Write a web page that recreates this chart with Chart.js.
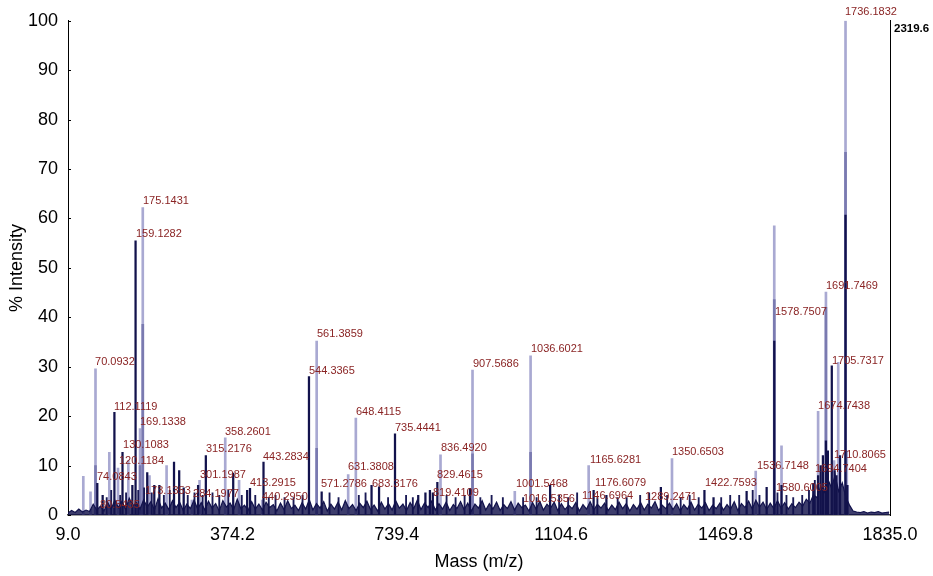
<!DOCTYPE html>
<html>
<head>
<meta charset="utf-8">
<script src="https://cdn.jsdelivr.net/npm/chart.js@4.4.1/dist/chart.umd.min.js"></script>
<style>
  html, body { margin: 0; padding: 0; background: #fff; }
  canvas { display: block; }
</style>
</head>
<body>
<canvas id="c" width="933" height="576"></canvas>
<script>
// ---------------- data ----------------
const xTickValues = [9.0, 374.2, 739.4, 1104.6, 1469.8, 1835.0];
const yTickValues = [0, 10, 20, 30, 40, 50, 60, 70, 80, 90, 100];
const maxIntensityLabel = "2319.6";

// light lavender trace: [m/z, % intensity]
const lightPeaks = [
  [43, 7.8], [59, 4.7], [70.09, 29.6], [100.8, 12.7], [120.1, 9.5], [143, 11],
  [169.1, 17.5], [175.1, 62.2], [190, 8], [228, 10], [284.2, 3], [301.2, 7],
  [358.3, 15.6], [389, 7], [440.3, 3], [561.4, 35.2], [631.4, 8.2], [648.4, 19.6],
  [836.5, 12.2], [907.6, 29.3], [1001.5, 4.8], [1036.6, 32.2], [1165.6, 10],
  [1350.7, 11.4], [1536.7, 8.9], [1577.9, 58.5], [1594, 14], [1675.3, 21],
  [1692.7, 45.1], [1710.8, 11], [1720, 30.9], [1736.2, 100], [1739, 13], [1741, 6]
];
// medium lavender trace
const midPeaks = [
  [70.09, 10], [169.1, 10], [175.1, 38.6], [561.4, 13.5], [907.6, 12.4],
  [1036.6, 12.7], [1577.9, 43.6], [1692.7, 42], [1736.2, 73.4]
];
// dark navy trace
const darkPeaks = [
  [74.1, 6.4], [86, 4], [112.1, 20.8], [130.1, 12.7], [152, 6], [159.1, 55.5],
  [185, 8.6], [200.7, 6], [212, 6], [244.5, 10.7], [256, 9], [266, 5.5], [298, 6],
  [315.2, 12], [376, 8.5], [407, 5], [413.3, 5.4], [443.3, 10.7], [544.3, 28],
  [572.5, 4.7], [683.3, 6], [700, 5.7], [735.4, 16.4], [787, 4], [803, 4.5],
  [813, 5], [819.4, 4.5], [829.5, 6.6], [902, 5.4], [1080, 6], [1176.6, 5],
  [1205, 4], [1326, 5.6], [1422.8, 5], [1443, 3.5], [1516.5, 4.8], [1561, 5.6],
  [1577.9, 35.2], [1594, 6], [1664.6, 6.4], [1675.3, 8], [1681, 10], [1686, 12],
  [1692.7, 15], [1697, 13], [1705.7, 30.2], [1712, 9], [1716, 8], [1724, 12],
  [1736.2, 60.7], [1740, 6]
];
// small dark spikes riding on the baseline
const darkSpikes = [
  [95, 3.5], [105, 5], [125, 4], [138, 4.5], [165, 5], [178, 5.5], [195, 4.5],
  [222, 4], [235, 5], [275, 4], [290, 4.5], [308, 4], [330, 4.5], [345, 4],
  [365, 5], [395, 4], [425, 4], [455, 3.5], [470, 4], [490, 3.5], [510, 3.5],
  [530, 4], [590, 4.5], [610, 3.5], [655, 4], [670, 4.5], [720, 3.5], [760, 4],
  [775, 3.5], [850, 4], [870, 3.5], [890, 4], [925, 3.5], [950, 4], [975, 3.5],
  [1020, 3.5], [1050, 3.5], [1100, 4], [1120, 3.5], [1140, 4.5], [1185, 3.5],
  [1230, 3.5], [1250, 3.5], [1280, 4], [1300, 4.5], [1340, 4], [1370, 3.5],
  [1390, 4], [1410, 3.5], [1460, 3.5], [1480, 4], [1500, 4], [1530, 5],
  [1545, 4], [1585, 4.5], [1605, 4], [1620, 3.5], [1640, 4], [1655, 5], [1668, 7]
];
// dark baseline noise, sampled every 8 m/z from 9
const noiseStart = 9;
const noiseStep = 8;
const noiseLevels = [
  0.4,0.9,0.5,1.2,0.6,1.0,0.7,2.2,1.0,1.8,
  0.8,2.6,1.2,3.0,1.5,2.8,1.1,3.4,1.9,2.5,
  1.2,3.1,1.6,2.7,1.0,3.3,1.4,2.4,1.1,2.9,
  1.5,2.6,0.9,2.2,1.3,3.0,1.2,2.5,1.0,2.8,
  1.4,2.3,0.8,2.9,1.6,2.4,1.1,3.2,1.3,2.0,
  0.9,2.7,1.2,2.2,1.0,2.6,1.5,2.1,0.8,2.4,
  1.1,2.9,1.3,2.0,0.9,2.5,1.2,3.1,1.0,2.3,
  1.4,2.7,0.8,2.2,1.2,2.6,1.0,2.9,1.3,2.1,
  0.9,2.4,1.5,2.8,1.1,2.0,0.8,2.6,1.2,2.3,
  1.0,2.9,1.4,2.2,0.9,2.5,1.3,3.0,1.1,2.4,
  1.5,2.8,1.0,2.3,1.2,2.6,0.9,2.1,1.3,2.7,
  1.1,2.4,0.8,2.2,1.4,2.9,1.0,2.3,1.2,2.6,
  0.9,2.1,1.3,2.7,1.0,2.4,1.5,2.0,0.8,2.5,
  1.2,2.8,1.0,2.2,1.4,2.6,0.9,2.3,1.1,2.0,
  1.3,2.5,0.8,2.1,1.2,2.7,1.0,2.2,1.4,2.4,
  0.9,2.0,1.1,2.6,1.3,2.3,0.8,2.1,1.2,2.5,
  1.0,2.2,1.4,2.7,0.9,2.0,1.3,2.4,1.1,2.3,
  0.8,2.1,1.2,2.6,1.0,2.2,1.4,2.5,0.9,2.0,
  1.3,2.4,1.0,2.1,1.2,2.7,0.9,2.3,1.5,2.8,
  1.2,3.0,1.6,2.6,1.1,2.4,1.3,2.9,1.4,2.5,
  1.2,2.3,1.5,2.6,1.8,3.2,2.4,4.1,3.5,5.8,
  4.6,7.2,5.5,8.0,4.8,6.5,3.6,2.0,0.8,0.6,
  0.5,0.7,0.4,0.6,0.5,0.7,0.4,0.5,0.6
];
// peak labels: [text, m/z of label, % intensity of label]
const peakLabels = [
  ["175.1431", 175.6, 63.6], ["159.1282", 160.0, 56.9], ["70.0932", 69.0, 31.0],
  ["112.1119", 111.2, 21.9], ["169.1338", 168.9, 18.9], ["130.1083", 131.2, 14.1],
  ["120.1184", 122.3, 10.9], ["74.0843", 73.4, 7.6], ["80.5435", 80.1, 2.0],
  ["173.1353", 180.0, 4.8], ["358.2601", 357.7, 16.9], ["315.2176", 315.5, 13.3],
  ["301.1987", 302.2, 8.0], ["284.1977", 286.7, 4.2], ["443.2834", 442.1, 11.7],
  ["413.2915", 413.3, 6.4], ["440.2950", 439.9, 3.6], ["561.3859", 562.1, 36.6],
  ["544.3365", 544.3, 29.2], ["648.4115", 648.7, 20.9], ["735.4441", 735.3, 17.7],
  ["631.3808", 631.0, 9.7], ["571.2786", 571.0, 6.2], ["683.3176", 684.3, 6.2],
  ["836.4920", 837.5, 13.5], ["829.4615", 828.6, 8.2], ["819.4109", 819.7, 4.4],
  ["907.5686", 908.6, 30.6], ["1036.6021", 1037.4, 33.6], ["1001.5468", 1004.1, 6.2],
  ["1016.5356", 1019.7, 3.2], ["1165.6281", 1168.5, 11.1], ["1176.6079", 1179.6, 6.4],
  ["1146.6964", 1150.7, 3.8], ["1289.2471", 1290.6, 3.6], ["1350.6503", 1350.6, 12.7],
  ["1422.7593", 1423.9, 6.4], ["1536.7148", 1539.4, 9.9], ["1580.6005", 1581.6, 5.4],
  ["1578.7507", 1579.4, 41.0], ["1691.7469", 1692.7, 46.3], ["1705.7317", 1706.0, 31.2],
  ["1674.7438", 1675.3, 22.1], ["1710.8065", 1710.5, 12.1], ["1694.7404", 1668.3, 9.3],
  ["1736.1832", 1734.9, 101.8]
];

// ---------------- chart ----------------
const toXY = arr => arr.map(p => ({ x: p[0], y: p[1] }));
const noiseData = noiseLevels.map((v, i) => ({ x: noiseStart + i * noiseStep, y: v }));
const FONT = "'Liberation Sans', Arial, sans-serif";

const labelPlugin = {
  id: 'peakLabels',
  afterDatasetsDraw(chart) {
    const { ctx, scales } = chart;
    ctx.save();
    ctx.font = "11px " + FONT;
    ctx.fillStyle = "#8a2424";
    ctx.textAlign = "left";
    ctx.textBaseline = "middle";
    peakLabels.forEach(([t, m, h]) => {
      ctx.fillText(t, scales.x.getPixelForValue(m), scales.y.getPixelForValue(h));
    });
    // inward tick marks on left axis
    ctx.strokeStyle = "#000";
    ctx.lineWidth = 1;
    const left = chart.chartArea.left;
    yTickValues.forEach(v => {
      const y = Math.round(scales.y.getPixelForValue(v)) + 0.5;
      ctx.beginPath();
      ctx.moveTo(left, y);
      ctx.lineTo(left + 3, y);
      ctx.stroke();
    });
    ctx.restore();
  }
};

new Chart(document.getElementById('c'), {
  type: 'bar',
  data: {
    datasets: [
      { type: 'bar', data: toXY(lightPeaks), backgroundColor: '#a9a9d2', barThickness: 2, grouped: false, order: 5 },
      { type: 'bar', data: toXY(midPeaks), backgroundColor: '#7a7ab0', barThickness: 2, grouped: false, order: 4 },
      { type: 'bar', data: toXY(darkPeaks), backgroundColor: '#12124c', barThickness: 1.6, grouped: false, order: 3 },
      { type: 'bar', data: toXY(darkSpikes), backgroundColor: '#1a1a55', barThickness: 1.2, grouped: false, order: 2 },
      { type: 'line', data: noiseData, borderColor: '#12124c', borderWidth: 1.2, pointRadius: 0,
        tension: 0, fill: 'origin', backgroundColor: 'rgba(18,18,76,0.82)', order: 1 }
    ]
  },
  options: {
    responsive: false,
    animation: false,
    devicePixelRatio: 1,
    layout: { padding: { top: 18, left: 0, right: 0, bottom: 0 } },
    plugins: { legend: { display: false }, tooltip: { enabled: false } },
    scales: {
      x: {
        type: 'linear', min: 9, max: 1835, offset: false,
        afterBuildTicks: s => { s.ticks = xTickValues.map(v => ({ value: v })); },
        afterFit: s => { s.height = 61; },
        grid: { display: false, drawTicks: false },
        border: { display: true, color: '#444', width: 1.5 },
        ticks: { autoSkip: false, maxRotation: 0, padding: 9, color: '#000',
                 font: { family: FONT, size: 18 }, callback: v => Number(v).toFixed(1) },
        title: { display: true, text: 'Mass (m/z)', color: '#000',
                 font: { family: FONT, size: 18 }, padding: { top: 0, bottom: 3 } }
      },
      y: {
        position: 'left', min: 0, max: 100,
        afterBuildTicks: s => { s.ticks = yTickValues.map(v => ({ value: v })); },
        afterFit: s => { s.width = 68; },
        grid: { display: false, drawTicks: false },
        border: { display: true, color: '#000', width: 1 },
        ticks: { padding: 10, color: '#000', font: { family: FONT, size: 18 } },
        title: { display: true, text: '% Intensity', color: '#000',
                 font: { family: FONT, size: 18 }, padding: { top: 6, bottom: 0 } }
      },
      y2: {
        position: 'right', min: 0, max: 100,
        afterBuildTicks: s => { s.ticks = [{ value: 100 }]; },
        afterFit: s => { s.width = 43; },
        grid: { display: false, drawTicks: false },
        border: { display: true, color: '#000', width: 1 },
        ticks: { padding: 4, labelOffset: 8, color: '#000',
                 font: { family: FONT, size: 11.5, weight: 'bold' },
                 callback: () => maxIntensityLabel }
      }
    }
  },
  plugins: [labelPlugin]
});
</script>
</body>
</html>
